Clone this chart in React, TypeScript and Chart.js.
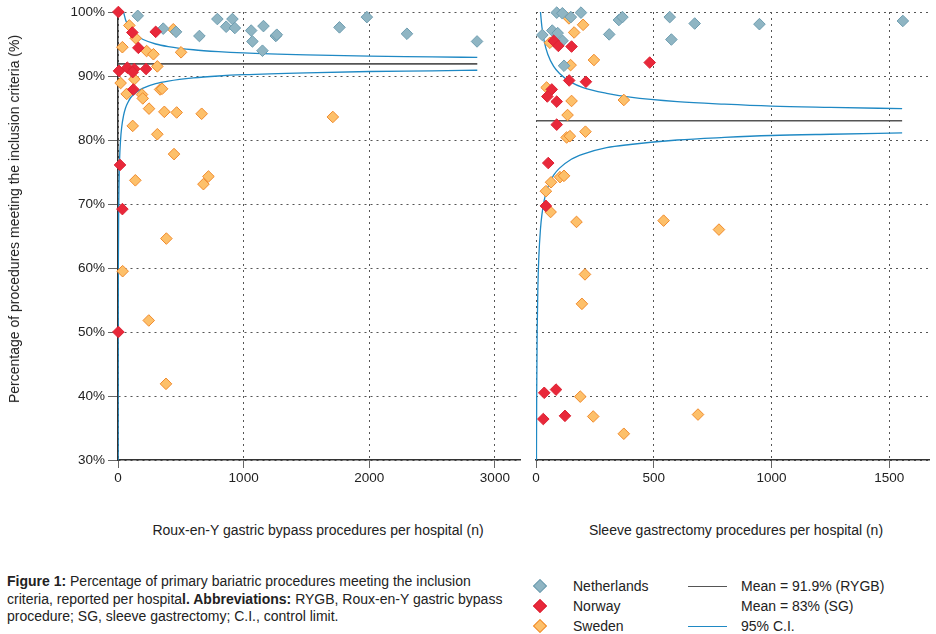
import React, { useEffect, useRef } from "react";
import { Chart, registerables } from "chart.js";
Chart.register(...registerables);

const FONT = '"Liberation Sans", Arial, Helvetica, sans-serif';

// ---------- Data: RYGB panel (x = procedures per hospital, y = % meeting criteria)
const rygbNetherlandsX = [157, 360, 462, 648, 791, 861, 911, 930, 1060, 1070, 1158, 1150, 1256, 1264, 1763, 1981, 2300, 2858];
const rygbNetherlandsY = [99.4, 97.4, 96.9, 96.25, 98.9, 97.7, 98.9, 97.5, 97.1, 95.4, 97.8, 93.95, 96.25, 96.45, 97.6, 99.2, 96.6, 95.4];
const rygbNorwayX = [3, 114, 300, 162, 8, 74, 130, 117, 223, 122, 16, 35, 3];
const rygbNorwayY = [100, 96.8, 96.9, 94.4, 90.8, 91.3, 91.1, 90.6, 91.1, 87.9, 76.1, 69.2, 50];
const rygbSwedenX = [90, 141, 35, 228, 282, 502, 440, 313, 130, 21, 69, 191, 197, 335, 351, 247, 369, 467, 666, 117, 313, 446, 138, 680, 720, 385, 37, 245, 382, 1710];
const rygbSwedenY = [97.9, 95.9, 94.5, 93.9, 93.4, 93.7, 97.3, 91.5, 89.5, 88.9, 87.2, 87.1, 86.5, 87.9, 88.0, 84.9, 84.4, 84.3, 84.1, 82.2, 80.9, 77.8, 73.7, 73.1, 74.3, 64.6, 59.5, 51.8, 41.9, 83.6];
const rygbMean = 91.9;
const rygbMeanEnd = 2860;
const rygbUpperN = [44, 60, 80, 100, 150, 200, 300, 400, 600, 800, 1000, 1500, 2000, 2500, 2860];
const rygbUpperY = [100, 98.8, 97.9, 97.2, 96.3, 95.7, 95.0, 94.6, 94.1, 93.8, 93.6, 93.3, 93.1, 93.0, 92.9];
const rygbLowerN = [0.7, 1, 2, 3, 5, 10, 20, 30, 44, 60, 80, 100, 150, 200, 300, 400, 600, 800, 1000, 1500, 2000, 2500, 2860];
const rygbLowerY = [28, 38.4, 54.1, 61.0, 68.0, 75.0, 79.9, 82.1, 83.8, 85.0, 85.9, 86.6, 87.5, 88.1, 88.8, 89.2, 89.7, 90.0, 90.2, 90.5, 90.7, 90.8, 90.9];
const rygbXTicks = [0, 1000, 2000, 3000];
const rygbXMax = 3200;

// ---------- Data: SG panel
const sgNetherlandsX = [88, 112, 148, 191, 352, 367, 568, 674, 575, 311, 27, 69, 92, 113, 119, 949, 1558];
const sgNetherlandsY = [99.9, 99.8, 99.2, 99.9, 98.75, 99.2, 99.2, 98.2, 95.7, 96.5, 96.4, 97.1, 96.7, 95.5, 91.6, 98.1, 98.6];
const sgNorwayX = [75, 95, 151, 483, 141, 212, 67, 48, 88, 88, 52, 42, 35, 85, 31, 123];
const sgNorwayY = [95.5, 94.7, 94.6, 92.1, 89.3, 89.1, 87.9, 86.8, 86.0, 82.4, 76.4, 69.7, 40.5, 41.0, 36.4, 36.9];
const sgSwedenX = [200, 162, 140, 59, 147, 246, 45, 151, 373, 134, 130, 144, 210, 64, 42, 102, 119, 62, 172, 542, 777, 208, 195, 188, 243, 688, 373];
const sgSwedenY = [98, 96.8, 99, 95.2, 91.7, 92.5, 88.2, 86.1, 86.25, 83.9, 80.4, 80.6, 81.3, 73.4, 72.0, 74.2, 74.4, 68.75, 67.2, 67.4, 66.0, 59.0, 54.4, 39.9, 36.8, 37.1, 34.1];
const sgMean = 83;
const sgMeanEnd = 1555;
const sgUpperN = [19, 25, 35, 50, 75, 100, 150, 200, 300, 400, 600, 800, 1000, 1250, 1555];
const sgUpperY = [100, 97.7, 95.4, 93.4, 91.5, 90.4, 89.0, 88.2, 87.3, 86.7, 86.0, 85.6, 85.3, 85.1, 84.9];
const sgLowerN = [1.7, 2, 3, 5, 8, 12, 19, 25, 35, 50, 75, 100, 150, 200, 300, 400, 600, 800, 1000, 1250, 1555];
const sgLowerY = [26.5, 30.9, 40.5, 50.1, 57.0, 61.7, 66.1, 68.3, 70.6, 72.6, 74.5, 75.6, 77.0, 77.8, 78.8, 79.3, 80.0, 80.4, 80.7, 80.9, 81.1];
const sgXTicks = [0, 500, 1000, 1500];
const sgXMax = 1670;

const yTicks = [30, 40, 50, 60, 70, 80, 90, 100];

const COLORS = {
  nl: { fill: "#8fb5c3", border: "#6e9db0" },
  no: { fill: "#e8283a", border: "#dd2233" },
  se: { fill: "#fdc06a", border: "#f08a2c" },
  mean: "#555555",
  ci: "#1f89c4",
};

const zip = (xs: number[], ys: number[]) => xs.map((x, i) => ({ x, y: ys[i] }));

function pointSet(label: string, xs: number[], ys: number[], c: { fill: string; border: string }) {
  return {
    label,
    data: zip(xs, ys),
    backgroundColor: c.fill,
    borderColor: c.border,
    borderWidth: 1,
    pointStyle: "rectRot",
    pointRadius: 5.8,
    showLine: false,
    clip: false as any,
  };
}

function lineSet(label: string, xs: number[], ys: number[], color: string, width: number) {
  return {
    label,
    data: zip(xs, ys),
    borderColor: color,
    backgroundColor: color,
    borderWidth: width,
    pointRadius: 0,
    showLine: true,
    cubicInterpolationMode: "monotone",
    fill: false,
  };
}

function buildConfig(panel: "rygb" | "sg"): any {
  const isL = panel === "rygb";
  const datasets = isL
    ? [
        pointSet("Norway", rygbNorwayX, rygbNorwayY, COLORS.no),
        pointSet("Netherlands", rygbNetherlandsX, rygbNetherlandsY, COLORS.nl),
        pointSet("Sweden", rygbSwedenX, rygbSwedenY, COLORS.se),
        lineSet("Mean", [0, rygbMeanEnd], [rygbMean, rygbMean], COLORS.mean, 1.6),
        lineSet("Upper", rygbUpperN, rygbUpperY, COLORS.ci, 1.3),
        lineSet("Lower", rygbLowerN, rygbLowerY, COLORS.ci, 1.3),
      ]
    : [
        pointSet("Norway", sgNorwayX, sgNorwayY, COLORS.no),
        pointSet("Netherlands", sgNetherlandsX, sgNetherlandsY, COLORS.nl),
        pointSet("Sweden", sgSwedenX, sgSwedenY, COLORS.se),
        lineSet("Mean", [0, sgMeanEnd], [sgMean, sgMean], COLORS.mean, 1.6),
        lineSet("Upper", sgUpperN, sgUpperY, COLORS.ci, 1.3),
        lineSet("Lower", sgLowerN, sgLowerY, COLORS.ci, 1.3),
      ];
  const xTicks = isL ? rygbXTicks : sgXTicks;
  const tickFont = { family: FONT, size: 13.5 };
  return {
    type: "scatter",
    data: { datasets },
    options: {
      responsive: false,
      animation: false,
      events: [],
      layout: { padding: { top: 12, right: isL ? 8 : 6, left: 0, bottom: 10 } },
      plugins: { legend: { display: false }, tooltip: { enabled: false } },
      scales: {
        x: {
          type: "linear",
          min: 0,
          max: isL ? rygbXMax : sgXMax,
          afterBuildTicks: (s: any) => {
            s.ticks = xTicks.map((v) => ({ value: v }));
          },
          ticks: {
            color: "#222",
            font: tickFont,
            padding: 2,
            maxRotation: 0,
            autoSkip: false,
            callback: (v: any) => String(v),
          },
          grid: {
            color: "#555",
            lineWidth: 1,
            tickLength: 8,
            tickColor: "#666",
            tickBorderDash: [],
          },
          border: { display: true, color: "#333", width: 1.5, dash: [2, 4] },
          afterFit: (s: any) => {
            s.height = 30;
          },
        },
        y: {
          type: "linear",
          min: yTicks[0],
          max: yTicks[yTicks.length - 1],
          afterBuildTicks: (s: any) => {
            s.ticks = yTicks.map((v) => ({ value: v }));
          },
          ticks: {
            display: isL,
            color: "#222",
            font: tickFont,
            padding: 3,
            autoSkip: false,
            callback: (v: any) => v + "%",
          },
          grid: {
            color: "#555",
            lineWidth: 1,
            drawTicks: isL,
            tickLength: isL ? 10 : 0,
            tickColor: "#666",
            tickBorderDash: [],
          },
          border: { display: isL, color: "#333", width: 1.5, dash: [2, 4] },
          afterFit: (s: any) => {
            s.width = isL ? 118 : 8;
          },
        },
      },
    },
  };
}

function Panel({ panel, left, width }: { panel: "rygb" | "sg"; left: number; width: number }) {
  const ref = useRef<HTMLCanvasElement>(null);
  useEffect(() => {
    const chart = new Chart(ref.current as HTMLCanvasElement, buildConfig(panel));
    return () => chart.destroy();
  }, [panel]);
  return (
    <canvas
      ref={ref}
      width={width}
      height={500}
      style={{ position: "absolute", left, top: 0, width, height: 500 }}
    />
  );
}

function Diamond({ c }: { c: { fill: string; border: string } }) {
  return (
    <div
      style={{
        width: 8,
        height: 8,
        background: c.fill,
        border: `1px solid ${c.border}`,
        transform: "rotate(45deg)",
      }}
    />
  );
}

const legendRows = [
  { label: "Netherlands", c: COLORS.nl, line: COLORS.mean, text: "Mean = 91.9% (RYGB)" },
  { label: "Norway", c: COLORS.no, line: null, text: "Mean = 83% (SG)" },
  { label: "Sweden", c: COLORS.se, line: COLORS.ci, text: "95% C.I." },
];

export default function App() {
  return (
    <div
      style={{
        position: "absolute",
        left: 0,
        top: 0,
        width: 936,
        height: 634,
        background: "#fff",
        fontFamily: FONT,
        color: "#222",
        overflow: "hidden",
      }}
    >
      <Panel panel="rygb" left={0} width={528} />
      <Panel panel="sg" left={528} width={408} />
      <div
        style={{
          position: "absolute",
          left: 14,
          top: 219,
          transform: "translate(-50%, -50%) rotate(-90deg)",
          whiteSpace: "nowrap",
          fontSize: 14,
        }}
      >
        Percentage of procedures meeting the inclusion criteria (%)
      </div>
      <div
        style={{
          position: "absolute",
          left: 318,
          top: 530,
          transform: "translate(-50%, -50%)",
          whiteSpace: "nowrap",
          fontSize: 14,
        }}
      >
        Roux-en-Y gastric bypass procedures per hospital (n)
      </div>
      <div
        style={{
          position: "absolute",
          left: 736,
          top: 530,
          transform: "translate(-50%, -50%)",
          whiteSpace: "nowrap",
          fontSize: 14,
        }}
      >
        Sleeve gastrectomy procedures per hospital (n)
      </div>
      <div
        style={{
          position: "absolute",
          left: 7,
          top: 573,
          fontSize: 14,
          lineHeight: "17.5px",
          whiteSpace: "nowrap",
        }}
      >
        <b>Figure 1:</b> Percentage of primary bariatric procedures meeting the inclusion
        <br />
        criteria, reported per hospita<b>l. Abbreviations:</b> RYGB, Roux-en-Y gastric bypass
        <br />
        procedure; SG, sleeve gastrectomy; C.I., control limit.
      </div>
      {legendRows.map((r, i) => (
        <React.Fragment key={r.label}>
          <div style={{ position: "absolute", left: 535, top: 586 + i * 20 - 5 }}>
            <Diamond c={r.c} />
          </div>
          <div
            style={{
              position: "absolute",
              left: 573,
              top: 586 + i * 20,
              transform: "translateY(-50%)",
              fontSize: 14,
              whiteSpace: "nowrap",
            }}
          >
            {r.label}
          </div>
          {r.line && (
            <div
              style={{
                position: "absolute",
                left: 688,
                top: 586 + i * 20 - 0.5,
                width: 39,
                height: 1.3,
                background: r.line,
              }}
            />
          )}
          <div
            style={{
              position: "absolute",
              left: 741,
              top: 586 + i * 20,
              transform: "translateY(-50%)",
              fontSize: 14,
              whiteSpace: "nowrap",
            }}
          >
            {r.text}
          </div>
        </React.Fragment>
      ))}
    </div>
  );
}
